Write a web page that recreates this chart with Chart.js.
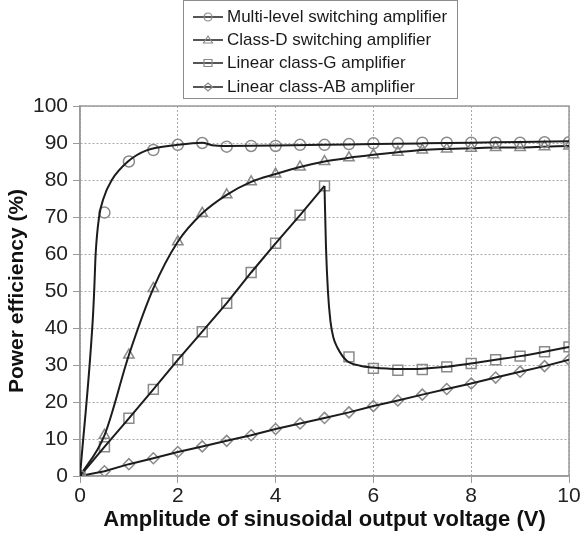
<!DOCTYPE html>
<html>
<head>
<meta charset="utf-8">
<script src="https://cdn.jsdelivr.net/npm/chart.js@4.4.1/dist/chart.umd.min.js"></script>
<style>
  html, body { margin: 0; padding: 0; background: #fff; }
  #wrap { position: relative; width: 582px; height: 535px; }
  #chart { position: absolute; left: 0; top: 0; }
  #legend {
    position: absolute; left: 183px; top: 0; width: 273px; height: 97px;
    border: 1.5px solid #8c8c8c; background: #fff;
    font-family: 'Liberation Sans', Arial, sans-serif; font-size: 17px; color: #1a1a1a;
  }
  .row { position: absolute; left: 8px; height: 20px; display: flex; align-items: center; white-space: nowrap; }
  .row canvas { margin-right: 3px; }
</style>
</head>
<body>
<div id="wrap">
  <canvas id="chart" width="582" height="535"></canvas>
  <div id="legend"></div>
</div>
<script>
// marker positions (V)
const markX = [0, 0.5, 1, 1.5, 2, 2.5, 3, 3.5, 4, 4.5, 5, 5.5, 6, 6.5, 7, 7.5, 8, 8.5, 9, 9.5, 10];

// marker values (%)
const multiMarks = [0, 71.2, 85, 88.1, 89.5, 90, 89, 89.2, 89.2, 89.5, 89.5, 89.7, 89.9, 89.9, 90.1, 90.1, 90.1, 90.1, 90.1, 90.2, 90.2];
const classDMarks = [0, 11, 32.7, 50.7, 63.3, 71, 76, 79.5, 81.6, 83.5, 85, 86, 86.8, 87.5, 88.1, 88.4, 88.6, 88.8, 88.8, 89, 89.2];
const classGMarks = [0, 7.9, 15.6, 23.4, 31.4, 39, 46.7, 55, 62.9, 70.5, 78.4, 32.2, 29.1, 28.6, 28.8, 29.5, 30.4, 31.4, 32.4, 33.6, 34.9];
const classABMarks = [0, 1.3, 3.2, 4.8, 6.5, 8, 9.5, 11, 12.7, 14.2, 15.7, 17.2, 18.9, 20.4, 22, 23.5, 25, 26.6, 28.2, 29.7, 31.4];

// fitted curves
const multiLineX = [0, 0.26, 0.29, 0.32, 0.39, 0.48, 0.65, 0.98, 1.36, 2, 2.5, 2.7, 3, 4, 5, 6, 7, 8, 9, 10];
const multiLineY = [0, 42, 50, 60, 70, 75, 80, 85, 88, 89.5, 90.1, 89.4, 89.2, 89.3, 89.5, 89.7, 89.9, 90.1, 90.3, 90.5];
const classGDropX = [5, 5.03, 5.07, 5.12, 5.18, 5.26, 5.45, 5.73, 6, 6.5, 7, 7.5, 8, 8.5, 9, 9.5, 10];
const classGDropY = [78.4, 62, 50, 42, 37.5, 34.8, 31.2, 29.8, 29.3, 28.9, 29, 29.5, 30.4, 31.4, 32.4, 33.6, 34.9];

const seriesNames = [
  'Multi-level switching amplifier',
  'Class-D switching amplifier',
  'Linear class-G amplifier',
  'Linear class-AB amplifier'
];
const markerStyles = ['circle', 'triangle', 'rect', 'rectRot'];

const xTitle = 'Amplitude of sinusoidal output voltage (V)';
const yTitle = 'Power efficiency (%)';

const FONT = "'Liberation Sans', Arial, sans-serif";
const LINE_COLOR = '#1c1c1c';
const MARK_COLOR = '#8a8a8a';

function pts(xs, ys) {
  return xs.map((x, i) => ({ x, y: ys[i] }));
}

function lineSet(data, curved) {
  return {
    data,
    showLine: true,
    borderColor: LINE_COLOR,
    borderWidth: 2,
    pointRadius: 0,
    tension: 0,
    cubicInterpolationMode: curved ? 'monotone' : 'default',
    fill: false
  };
}

function markSet(data, style, radius) {
  return {
    data,
    showLine: false,
    pointStyle: style,
    pointRadius: radius,
    pointBorderColor: MARK_COLOR,
    pointBackgroundColor: 'rgba(0,0,0,0)',
    pointBorderWidth: 1.5
  };
}

const datasets = [
  lineSet(pts(multiLineX, multiLineY), true),
  markSet(pts(markX, multiMarks), 'circle', 5.5),
  lineSet(pts(markX, classDMarks), true),
  markSet(pts(markX, classDMarks), 'triangle', 6),
  lineSet(pts(markX.slice(0, 11), classGMarks.slice(0, 11)), false),
  lineSet(pts(classGDropX, classGDropY), true),
  markSet(pts(markX, classGMarks), 'rect', 7),
  lineSet(pts(markX, classABMarks), false),
  markSet(pts(markX, classABMarks), 'rectRot', 5.5)
];

// solid frame round the plot area
const frame = {
  id: 'frame',
  beforeDatasetsDraw(chart) {
    const { ctx, chartArea: a } = chart;
    ctx.save();
    ctx.strokeStyle = '#9a9a9a';
    ctx.lineWidth = 1.5;
    ctx.strokeRect(a.left, a.top, a.right - a.left, a.bottom - a.top);
    ctx.restore();
  }
};

new Chart(document.getElementById('chart'), {
  type: 'scatter',
  data: { datasets },
  plugins: [frame],
  options: {
    responsive: false,
    animation: false,
    devicePixelRatio: 1,
    layout: { padding: { top: 106, right: 13, left: 0, bottom: 0 } },
    plugins: { legend: { display: false }, tooltip: { enabled: false } },
    scales: {
      x: {
        type: 'linear',
        min: 0, max: 10,
        afterFit: s => { s.height = 59; },
        ticks: { stepSize: 2, color: '#222', padding: 1, font: { family: FONT, size: 21 } },
        grid: { color: '#a8a8a8', lineWidth: 1, tickLength: 7, tickColor: '#9a9a9a', tickBorderDash: [] },
        border: { color: '#9a9a9a', width: 1.5, dash: [2, 2] },
        title: { display: true, text: xTitle, color: '#111', padding: { top: 0, bottom: 2 },
                 font: { family: FONT, size: 22, weight: 'bold' } }
      },
      y: {
        type: 'linear',
        min: 0, max: 100,
        afterFit: s => { s.width = 80; },
        ticks: { stepSize: 10, color: '#222', padding: 5, font: { family: FONT, size: 21 } },
        grid: { color: '#a8a8a8', lineWidth: 1, tickLength: 7, tickColor: '#9a9a9a', tickBorderDash: [] },
        border: { color: '#9a9a9a', width: 1.5, dash: [2, 2] },
        title: { display: true, text: yTitle, color: '#111', padding: { top: 5, bottom: 0 },
                 font: { family: FONT, size: 21, weight: 'bold' } }
      }
    }
  }
});

// legend: line with marker in the middle
function drawIcon(cv, style) {
  const c = cv.getContext('2d');
  c.strokeStyle = LINE_COLOR;
  c.lineWidth = 1.5;
  c.beginPath();
  c.moveTo(1, 8);
  c.lineTo(31, 8);
  c.stroke();
  c.strokeStyle = MARK_COLOR;
  c.lineWidth = 1.2;
  c.beginPath();
  const cx = 16, cy = 8;
  if (style === 'circle') c.arc(cx, cy, 4, 0, Math.PI * 2);
  else if (style === 'triangle') { c.moveTo(cx, cy - 4); c.lineTo(cx + 4.5, cy + 3); c.lineTo(cx - 4.5, cy + 3); c.closePath(); }
  else if (style === 'rect') c.rect(cx - 4, cy - 3.5, 8, 7);
  else { c.moveTo(cx, cy - 4); c.lineTo(cx + 4.5, cy); c.lineTo(cx, cy + 4); c.lineTo(cx - 4.5, cy); c.closePath(); }
  c.stroke();
}

const legendEl = document.getElementById('legend');
const rowTops = [5.5, 28.5, 52, 75.5];
seriesNames.forEach((name, i) => {
  const row = document.createElement('div');
  row.className = 'row';
  row.style.top = rowTops[i] + 'px';
  const cv = document.createElement('canvas');
  cv.width = 32;
  cv.height = 16;
  drawIcon(cv, markerStyles[i]);
  const span = document.createElement('span');
  span.textContent = name;
  row.appendChild(cv);
  row.appendChild(span);
  legendEl.appendChild(row);
});
</script>
</body>
</html>
